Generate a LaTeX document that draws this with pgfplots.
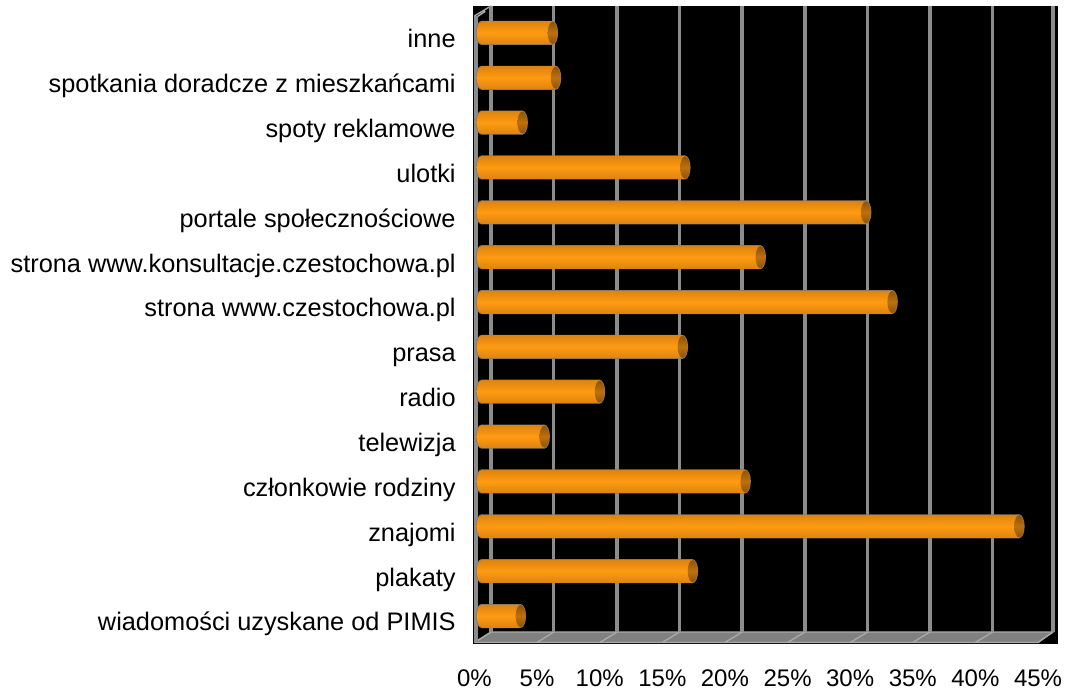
\documentclass[border=0pt]{standalone}
\usepackage{fontspec}
\setmainfont{Liberation Sans}
\usepackage{pgfplots}
\pgfplotsset{compat=1.18}
\usepackage{pgfplotstable}
\definecolor{barhi}{RGB}{255,155,18}
\definecolor{barlo}{RGB}{222,132,16}
\definecolor{barline}{RGB}{150,120,80}
\definecolor{caphi}{RGB}{190,112,14}
\definecolor{caplo}{RGB}{140,84,10}
\definecolor{gridgray}{RGB}{140,140,140}
\definecolor{floorgray}{RGB}{128,128,128}
\definecolor{floorline}{RGB}{170,170,170}

% bar ends, 1 unit = 1 percent point
\pgfplotstableread{
i v
0 3.1
1 16.8
2 42.8
3 21.0
4 5.0
5 9.4
6 16.0
7 32.7
8 22.2
9 30.6
10 16.2
11 3.25
12 5.9
13 5.65
}\shares

\pgfdeclareverticalshading{bodyshade}{100bp}{color(0bp)=(barlo); color(25bp)=(barlo); color(50bp)=(barhi); color(75bp)=(barlo); color(100bp)=(barlo)}
\pgfdeclareverticalshading{capshade}{100bp}{color(0bp)=(caplo); color(25bp)=(caplo); color(50bp)=(caphi); color(75bp)=(caplo); color(100bp)=(caplo)}
\pgfdeclareplotmark{capout}{\pgfpathellipse{\pgfpointorigin}{\pgfpoint{4.2pt}{0pt}}{\pgfpoint{0pt}{9pt}}\pgfsetfillcolor{barline}\pgfusepathqfill}
\pgfdeclareplotmark{capleft}{\pgfpathellipse{\pgfpointorigin}{\pgfpoint{3.6pt}{0pt}}{\pgfpoint{0pt}{8.25pt}}\pgfshadepath{bodyshade}{0}\pgfusepath{discard}}
\pgfdeclareplotmark{capright}{\pgfpathellipse{\pgfpointorigin}{\pgfpoint{3.6pt}{0pt}}{\pgfpoint{0pt}{8.25pt}}\pgfshadepath{capshade}{0}\pgfusepath{discard}}

\begin{document}
\begin{tikzpicture}
\path[use as bounding box] (0,0) rectangle (799.5pt,518.25pt);
\begin{axis}[
  at={(354.75pt,35.25pt)}, anchor=south west,
  scale only axis, width=438.75pt, height=478.5pt,
  xmin=-0.677, xmax=45.9, ymin=-0.624, ymax=13.6,
  axis background/.style={fill=black},
  axis line style={draw=none},
  major tick length=0pt,
  tick style={draw=none},
  unbounded coords=jump,
  clip mode=individual,
  xtick={-0.56,4.42,9.41,14.4,19.38,24.37,29.35,34.34,39.32,44.31},
  xticklabels={0\%,5\%,10\%,15\%,20\%,25\%,30\%,35\%,40\%,45\%},
  xticklabel style={font=\fontsize{18pt}{20pt}\selectfont, yshift=-15.5pt},
  ytick={0,...,13},
  yticklabels={wiadomości uzyskane od PIMIS,plakaty,znajomi,członkowie rodziny,telewizja,radio,prasa,strona www.czestochowa.pl,strona www.konsultacje.czestochowa.pl,portale społecznościowe,ulotki,spoty reklamowe,spotkania doradcze z mieszkańcami,inne},
  yticklabel style={font=\fontsize{19pt}{21pt}\selectfont, anchor=east, text height=14pt, text depth=4pt, xshift=-9.5pt, yshift=-6.2pt},
]
% floor
\addplot[fill=floorgray,draw=floorline,line width=0.8pt] coordinates {(-0.56,-0.59)(44.31,-0.59)(45.5,-0.357)(0.76,-0.357)(-0.56,-0.59)};
% floor and corner slants
\addplot[draw=floorline,line width=1pt] coordinates {
  (-0.56,-0.59)(0.76,-0.357)(nan,nan)
  (4.42,-0.59)(5.75,-0.357)(nan,nan)
  (9.41,-0.59)(10.8,-0.357)(nan,nan)
  (14.4,-0.59)(15.75,-0.357)(nan,nan)
  (19.38,-0.59)(20.75,-0.357)(nan,nan)
  (24.37,-0.59)(25.75,-0.357)(nan,nan)
  (29.35,-0.59)(30.75,-0.357)(nan,nan)
  (34.34,-0.59)(35.7,-0.357)(nan,nan)
  (39.32,-0.59)(40.7,-0.357)(nan,nan)
  (44.31,-0.59)(45.5,-0.357)(nan,nan)
  (-0.56,13.38)(0.76,13.6)(nan,nan)
  (-0.56,13.32)(0.3,13.48)
};
% walls
\addplot[draw=gridgray,line width=2.6pt] coordinates {
  (-0.45,-0.59)(-0.45,13.38)(nan,nan)
  (0.76,-0.357)(0.76,13.6)(nan,nan)
  (5.75,-0.357)(5.75,13.6)(nan,nan)
  (10.8,-0.357)(10.8,13.6)(nan,nan)
  (15.75,-0.357)(15.75,13.6)(nan,nan)
  (20.75,-0.357)(20.75,13.6)(nan,nan)
  (25.75,-0.357)(25.75,13.6)(nan,nan)
  (30.75,-0.357)(30.75,13.6)(nan,nan)
  (35.7,-0.357)(35.7,13.6)(nan,nan)
  (40.7,-0.357)(40.7,13.6)(nan,nan)
  (45.5,-0.357)(45.5,13.6)
};
% cylinder outline
\addplot[only marks,mark=capout] table[x expr=0,y=i] {\shares};
\addplot[only marks,mark=capout] table[x=v,y=i] {\shares};
\addplot[xbar,bar width=18pt,bar shift=0pt,fill=barline,draw=none] table[x=v,y=i] {\shares};
% cylinder body, one plot per row so that each bar gets its own gradient
\addplot[only marks,mark=capleft] table[x expr=0,y=i] {\shares};
\pgfplotsinvokeforeach{0,...,13}{
  \addplot[xbar,bar width=16.5pt,bar shift=0pt,draw=none,unbounded coords=discard,
    restrict y to domain=#1:#1,
    top color=barlo,bottom color=barlo,middle color=barhi] table[x=v,y=i] {\shares};
}
\addplot[only marks,mark=capright] table[x=v,y=i] {\shares};
\end{axis}
\end{tikzpicture}
\end{document}
